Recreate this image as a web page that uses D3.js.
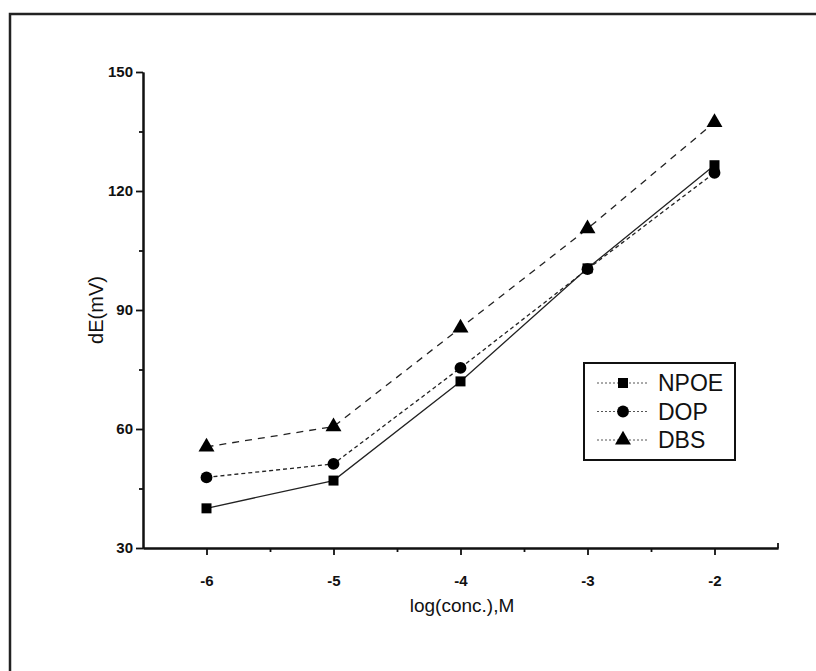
<!DOCTYPE html>
<html><head><meta charset="utf-8">
<script src="https://cdn.jsdelivr.net/npm/d3@7"></script>
<style>body{margin:0;background:#fff}svg{display:block}</style>
</head><body>
<svg id="c" width="816" height="671"></svg>
<script>
const xValues = [-6, -5, -4, -3, -2];
const npoe = [40, 47, 72, 100.5, 126.5];
const dop = [47.8, 51.2, 75.4, 100.3, 124.6];
const dbs = [55.5, 60.6, 85.5, 110.5, 137.3];
const seriesNames = ["NPOE", "DOP", "DBS"];
const yTicks = [30, 60, 90, 120, 150];
const xTicks = [-6, -5, -4, -3, -2];

const svg = d3.select("#c");
const font = "Liberation Sans, Arial, sans-serif";

// frame of scanned page
svg.append("path").attr("d","M10,680 L10,14 L830,14").attr("fill","none").attr("stroke","#222").attr("stroke-width",2.5);

const x = d3.scaleLinear().domain([-6.5, -1.5]).range([143, 778]);
const y = d3.scaleLinear().domain([30, 150]).range([548, 72]);

// axes
const gx = svg.append("g").attr("transform","translate(0,548)");
gx.call(d3.axisBottom(x).tickValues(xTicks).tickSize(7).tickSizeOuter(0).tickFormat(d => String(d)).tickPadding(20));
gx.append("g").call(d3.axisBottom(x).tickValues([-5.5,-4.5,-3.5,-2.5]).tickSize(4).tickSizeOuter(0).tickFormat(""));
const gy = svg.append("g").attr("transform","translate(143,0)");
gy.call(d3.axisLeft(y).tickValues(yTicks).tickSize(7).tickSizeOuter(0).tickPadding(3));
gy.append("g").call(d3.axisLeft(y).tickValues([45,75,105,135]).tickSize(4).tickSizeOuter(0).tickFormat(""));
svg.selectAll(".domain").attr("stroke","#111").attr("stroke-width",2);
svg.selectAll(".tick line").attr("stroke","#111").attr("stroke-width",1.8);
svg.selectAll(".tick text").attr("font-family",font).attr("font-weight","bold").attr("font-size",15).attr("fill","#111");
// end cap on x axis
svg.append("line").attr("x1",x(-1.5)).attr("x2",x(-1.5)).attr("y1",548).attr("y2",543).attr("stroke","#111").attr("stroke-width",1.8);

// axis titles
svg.append("text").attr("x",462).attr("y",612).attr("text-anchor","middle").attr("font-family",font).attr("font-size",19).attr("fill","#111").text("log(conc.),M");
svg.append("text").attr("transform","translate(103,310) rotate(-90)").attr("text-anchor","middle").attr("font-family",font).attr("font-size",20).attr("fill","#111").text("dE(mV)");

const series = [
  {name: seriesNames[0], vals: npoe, dash: null, sym: d3.symbolSquare, size: 100},
  {name: seriesNames[1], vals: dop, dash: "4,3", sym: d3.symbolCircle, size: 110},
  {name: seriesNames[2], vals: dbs, dash: "7,6", sym: d3.symbolTriangle, size: 110}
];
const line = d3.line().x(d => x(d[0])).y(d => y(d[1]));
series.forEach(s => {
  const pts = xValues.map((xv,i) => [xv, s.vals[i]]);
  svg.append("path").datum(pts).attr("d", line).attr("fill","none").attr("stroke","#222").attr("stroke-width",1.3).attr("stroke-dasharray", s.dash);
  svg.selectAll(null).data(pts).enter().append("path")
    .attr("d", d3.symbol().type(s.sym).size(s.size))
    .attr("transform", d => `translate(${x(d[0])},${y(d[1])})`).attr("fill","#000");
});

// legend
const lg = svg.append("g");
lg.append("rect").attr("x",584).attr("y",363).attr("width",151).attr("height",97).attr("fill","#fff").attr("stroke","#111").attr("stroke-width",2);
series.forEach((s,i) => {
  const yy = 383 + i*28.5;
  lg.append("line").attr("x1",597).attr("x2",648).attr("y1",yy).attr("y2",yy).attr("stroke","#555").attr("stroke-width",1).attr("stroke-dasharray", "2,2");
  lg.append("path").attr("d", d3.symbol().type(s.sym).size(s.size)).attr("transform",`translate(623,${yy})`).attr("fill","#000");
  lg.append("text").attr("x",658).attr("y",yy+8).attr("font-family",font).attr("font-size",23).attr("fill","#111").text(s.name);
});
</script>
</body></html>
